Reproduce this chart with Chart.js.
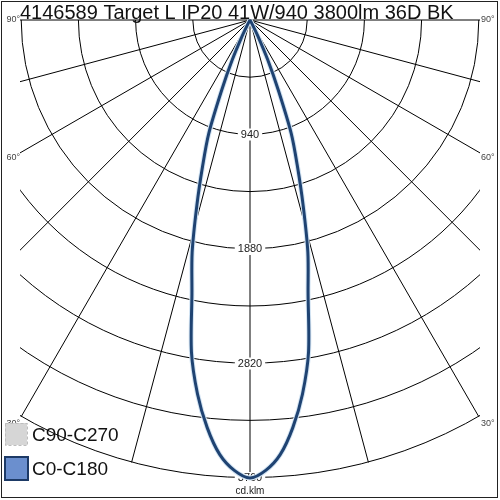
<!DOCTYPE html>
<html>
<head>
<meta charset="utf-8">
<script src="https://cdn.jsdelivr.net/npm/chart.js@4/dist/chart.umd.min.js"></script>
<style>
  body { margin: 0; background: #fff; }
  canvas { display: block; }
</style>
</head>
<body>
<canvas id="polar" width="500" height="500"></canvas>
<script>
const title = '4146589 Target L IP20 41W/940 3800lm 36D BK';

// gamma angle (deg from nadir) and luminous intensity (cd/klm)
const gammaDeg = [0, 2, 4, 6, 8, 10, 12, 14, 16, 18, 20, 22, 24, 26, 28, 30];
const c0c180 = [3760, 3700, 3575, 3365, 3100, 2770, 2295, 1965, 1585, 1260, 990, 620, 360, 150, 40, 0];
const c90c270 = [3760, 3700, 3575, 3365, 3100, 2770, 2295, 1965, 1585, 1260, 990, 620, 360, 150, 40, 0];

const ringValues = [470, 940, 1410, 1880, 2350, 2820, 3290, 3760];
const ringLabels = ['940', '1880', '2820', '3760'];
const spokeAngles = [-90, -75, -60, -45, -30, -15, 0, 15, 30, 45, 60, 75, 90];
const angleLabels = ['90°', '60°', '30°'];
const maxValue = 3760;

function toPoints(values) {
    let pts = [];
    // left half (C180 side) then right half (C0 side)
    for (let i = gammaDeg.length - 1; i >= 0; i--) {
        const a = -gammaDeg[i] * Math.PI / 180;
        pts.push({ x: values[i] * Math.sin(a), y: -values[i] * Math.cos(a) });
    }
    for (let i = 1; i < gammaDeg.length; i++) {
        const a = gammaDeg[i] * Math.PI / 180;
        pts.push({ x: values[i] * Math.sin(a), y: -values[i] * Math.cos(a) });
    }
    return pts;
}

const gridPlugin = {
    id: 'polarGrid',
    beforeDatasetsDraw(chart) {
        const ctx = chart.ctx;
        const area = chart.chartArea;
        const xs = chart.scales.x, ys = chart.scales.y;
        const cx = xs.getPixelForValue(0), cy = ys.getPixelForValue(0);
        const pxPer = xs.getPixelForValue(1000) - cx;

        ctx.save();
        ctx.beginPath();
        ctx.rect(area.left, area.top - 1, area.right - area.left, area.bottom - area.top + 2);
        ctx.clip();
        ctx.strokeStyle = '#000';
        ctx.lineWidth = 1;
        ringValues.forEach(v => {
            ctx.beginPath();
            ctx.arc(cx, cy, v * pxPer / 1000, 0, Math.PI);
            ctx.stroke();
        });
        spokeAngles.forEach(deg => {
            const a = deg * Math.PI / 180;
            const ex = xs.getPixelForValue(maxValue * Math.sin(a));
            const ey = ys.getPixelForValue(-maxValue * Math.cos(a));
            ctx.beginPath();
            ctx.moveTo(cx, cy);
            ctx.lineTo(ex, ey);
            ctx.stroke();
        });
        ctx.restore();

        // ring labels on the centre line
        ctx.save();
        ctx.font = '11px "Liberation Sans", Arial, sans-serif';
        ctx.textAlign = 'center';
        ctx.textBaseline = 'middle';
        ringLabels.forEach(t => {
            const py = ys.getPixelForValue(-parseFloat(t));
            const w = ctx.measureText(t).width + 6;
            ctx.fillStyle = '#fff';
            ctx.fillRect(cx - w / 2, py - 6, w, 12);
            ctx.fillStyle = '#222';
            ctx.fillText(t, cx, py);
        });
        ctx.font = '10px "Liberation Sans", Arial, sans-serif';
        ctx.fillText('cd.klm', cx, ys.getPixelForValue(-maxValue) + 13);

        // angle labels at the edges
        ctx.font = '9px "Liberation Sans", Arial, sans-serif';
        ctx.fillStyle = '#444';
        angleLabels.forEach(t => {
            const a = parseFloat(t) * Math.PI / 180;
            const halfW = area.right - cx;
            const py = cy + halfW / Math.tan(a) + (parseFloat(t) < 90 ? 5 : 0);
            ctx.textAlign = 'right';
            ctx.fillText(t, area.left, py);
            ctx.textAlign = 'left';
            ctx.fillText(t, area.right + 1, py);
        });
        ctx.restore();
    },
    afterDraw(chart) {
        const ctx = chart.ctx;
        ctx.save();
        // title
        ctx.font = '20px "Liberation Sans", Arial, sans-serif';
        ctx.fillStyle = '#111';
        ctx.textBaseline = 'alphabetic';
        ctx.textAlign = 'left';
        ctx.fillText(title, 20, 19);

        // legend
        ctx.fillStyle = '#d6d6d6';
        ctx.fillRect(5, 423, 22, 22);
        ctx.setLineDash([3, 2]);
        ctx.strokeStyle = '#bdbdbd';
        ctx.lineWidth = 1;
        ctx.strokeRect(5.5, 423.5, 22, 22);
        ctx.setLineDash([]);
        ctx.fillStyle = '#6b8fce';
        ctx.fillRect(5, 457, 23, 23);
        ctx.strokeStyle = '#1d3a66';
        ctx.lineWidth = 2;
        ctx.strokeRect(5, 457, 23, 23);
        ctx.fillStyle = '#111';
        ctx.font = '19px "Liberation Sans", Arial, sans-serif';
        ctx.fillText(chart.data.datasets[0].label, 32, 441);
        ctx.fillText(chart.data.datasets[1].label, 32, 475);

        // frame
        ctx.strokeStyle = '#222';
        ctx.lineWidth = 1;
        ctx.strokeRect(1.5, 1.5, 496, 496);
        ctx.restore();
    }
};

new Chart(document.getElementById('polar'), {
    type: 'scatter',
    data: {
        datasets: [
            {
                label: 'C90-C270',
                data: toPoints(c90c270),
                showLine: true,
                borderColor: '#d3e4f3',
                borderWidth: 5,
                pointRadius: 0,
                tension: 0.3,
                clip: 5,
                order: 2
            },
            {
                label: 'C0-C180',
                data: toPoints(c0c180),
                showLine: true,
                borderColor: '#1f4372',
                borderWidth: 3,
                pointRadius: 0,
                tension: 0.3,
                clip: 5,
                order: 1
            }
        ]
    },
    options: {
        responsive: false,
        animation: false,
        layout: { padding: { left: 20, right: 20, top: 20, bottom: 22 } },
        scales: {
            x: { type: 'linear', min: -1890, max: 1890, display: false },
            y: { type: 'linear', min: -3760, max: 0, display: false }
        },
        plugins: {
            legend: { display: false },
            tooltip: { enabled: false }
        }
    },
    plugins: [gridPlugin]
});
</script>
</body>
</html>
